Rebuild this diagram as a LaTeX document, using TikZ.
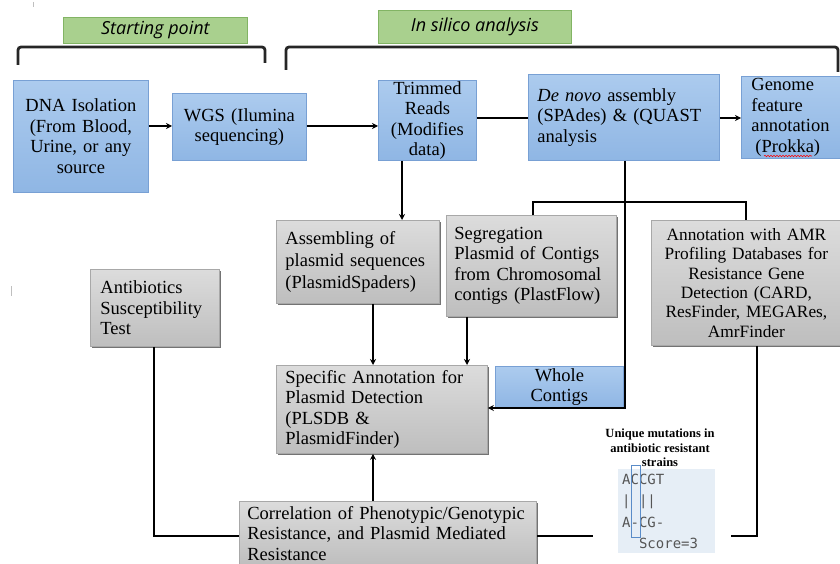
\documentclass[tikz,border=0pt]{standalone}
\usepackage{fontspec}
\setmainfont{Liberation Serif}
\newfontfamily\lblfont{Open Sans}
\newfontfamily\seqfont{DejaVu Sans Mono}
\usetikzlibrary{arrows.meta,shadows,decorations.pathmorphing}
\definecolor{bluetop}{RGB}{172,203,238}
\definecolor{bluebot}{RGB}{143,182,228}
\definecolor{blueedge}{RGB}{120,160,212}
\definecolor{graytop}{RGB}{220,220,220}
\definecolor{graybot}{RGB}{190,190,190}
\definecolor{grayedge}{RGB}{168,168,168}
\definecolor{greenfill}{RGB}{169,208,142}
\definecolor{greenedge}{RGB}{130,180,100}
\definecolor{seqbg}{RGB}{230,238,246}
\definecolor{seqtext}{RGB}{85,85,85}
\definecolor{seqedge}{RGB}{90,140,200}
\begin{document}
\begin{tikzpicture}[x=1pt,y=-1pt,
  base/.style={rectangle, anchor=north west, inner xsep=0pt, inner ysep=0pt,
    font=\fontsize{18.5}{20.5}\selectfont},
  bluebox/.style={base, draw=blueedge, line width=0.8pt, top color=bluetop, bottom color=bluebot},
  graybox/.style={base, draw=grayedge, line width=0.8pt, top color=graytop, bottom color=graybot,
    drop shadow={shadow xshift=1.5pt, shadow yshift=-1.5pt, opacity=0.55, fill=black}},
  lbl/.style={rectangle, anchor=north west, inner sep=0pt, draw=greenedge, line width=0.8pt, fill=greenfill,
    font=\lblfont\itshape\fontsize{18}{20}\selectfont},
  conn/.style={line width=2.6pt, black},
  arr/.style={conn, -{Stealth[length=6pt,width=6pt]}},
  bracket/.style={line width=2.8pt, rounded corners=3pt, black!85},
  seq/.style={anchor=base west, inner sep=0pt, text=seqtext, font=\seqfont\fontsize{14}{16}\selectfont}
]
\useasboundingbox (0,0) rectangle (840,564);

% stray marks
\draw[gray!50, line width=0.8pt] (11,286) -- (11,296);
\draw[gray!50, line width=0.6pt] (33,2) -- (33,7);

% phase labels and brackets
\node[lbl, minimum width=184pt, minimum height=26pt] (start) at (63,17) {Starting point};
\node[lbl, minimum width=193pt, minimum height=33pt] (insilico) at (378,10) {In silico analysis};
\draw[bracket] (18,65) -- (18,47) -- (265,47) -- (265,63);
\draw[bracket] (286,70) -- (286,47) -- (838,47) -- (838,72);

% top row
\node[bluebox, minimum width=135pt, minimum height=112pt, text width=130pt, align=center] (dna) at (13,80)
  {DNA Isolation\\(From Blood,\\Urine, or any\\source};
\node[bluebox, minimum width=134pt, minimum height=67pt, text width=128pt, align=center] (wgs) at (172,93)
  {WGS (Ilumina\\sequencing)};
\node[bluebox, minimum width=98pt, minimum height=80pt, text width=96pt, align=center] (trim) at (378,80)
  {Trimmed\\Reads\\(Modifies\\data)};
\node[bluebox, minimum width=191pt, minimum height=86pt, text width=173pt, align=left] (denovo) at (528,74)
  {\textit{De novo} assembly\\(SPAdes) \& (QUAST\\analysis};
\node[bluebox, minimum width=100pt, minimum height=82pt, text width=80pt, align=left] (genome) at (741,76)
  {Genome\\feature\\annotation\\\hspace*{4pt}(Prokka)};
\draw[red, line width=0.6pt, decorate, decoration={snake, amplitude=0.7pt, segment length=3pt}]
  (764,156) -- (812,156);

% middle row
\node[graybox, minimum width=163pt, minimum height=83pt, text width=145pt, align=left,
  font=\fontsize{18.5}{22}\selectfont] (asm) at (276,220)
  {Assembling of\\plasmid sequences\\(PlasmidSpaders)};
\node[graybox, minimum width=170pt, minimum height=101pt, text width=154pt, align=left] (seg) at (446,215)
  {Segregation\\Plasmid of Contigs\\from Chromosomal\\contigs (PlastFlow)};
\node[graybox, minimum width=190pt, minimum height=125pt, text width=180pt, align=center,
  font=\fontsize{17.3}{19.3}\selectfont] (amr) at (651,220)
  {Annotation with AMR\\Profiling Databases for\\Resistance Gene\\Detection (CARD,\\ResFinder, MEGARes,\\AmrFinder};
\node[graybox, minimum width=129pt, minimum height=77pt, text width=109pt, align=left] (abt) at (90,269)
  {Antibiotics\\Susceptibility\\Test};
\node[graybox, minimum width=211pt, minimum height=88pt, text width=193pt, align=left] (spec) at (276,365)
  {Specific Annotation for\\Plasmid Detection\\(PLSDB \&\\PlasmidFinder)};
\node[bluebox, minimum width=128pt, minimum height=41pt, text width=120pt, align=center] (wc) at (495,366)
  {Whole\\Contigs};
\node[graybox, minimum width=297pt, minimum height=64pt, text width=281pt, align=left] (corr) at (239,501)
  {Correlation of Phenotypic/Genotypic\\Resistance, and Plasmid Mediated\\Resistance};

% helper coordinates
\coordinate (r1) at (0,126);
\coordinate (r2) at (0,118);
\coordinate (r3) at (0,408);
\coordinate (r4) at (0,536);
\coordinate (rb) at (0,202);
\coordinate (c1) at (402,0);
\coordinate (c2) at (625,0);
\coordinate (c3) at (533,0);
\coordinate (c4) at (746,0);
\coordinate (c5) at (373,0);
\coordinate (c6) at (467,0);
\coordinate (c7) at (154,0);
\coordinate (c8) at (757,0);

% connectors
\draw[arr] (dna.east |- r1) -- (wgs.west |- r1);
\draw[arr] (wgs.east |- r1) -- (trim.west |- r1);
\draw[conn] (trim.east |- r2) -- (denovo.west |- r2);
\draw[arr] (denovo.east |- r2) -- (genome.west |- r2);
\draw[arr] (trim.south -| c1) -- (asm.north -| c1);
\draw[arr] (denovo.south -| c2) |- (spec.east |- r3);
\draw[conn] (seg.north -| c3) |- (c4 |- rb) -- (amr.north -| c4);
\draw[arr] (asm.south -| c5) -- (spec.north -| c5);
\draw[arr] (seg.south -| c6) -- (spec.north -| c6);
\draw[arr] (corr.north -| c5) -- (spec.south -| c5);
\draw[conn] (abt.south -| c7) |- (corr.west |- r4);
\draw[conn] (amr.south -| c8) |- (corr.east |- r4);

% inset picture
\node[fill=white, anchor=north west, inner sep=0pt, minimum width=138pt, minimum height=136pt] (img) at (593,424) {};
\node[fill=seqbg, anchor=north west, inner sep=0pt, minimum width=97pt, minimum height=84pt] (seqbox) at (618,469) {};
\node[inner sep=0pt, align=center, font=\bfseries\fontsize{12.5}{14.5}\selectfont] (imgtitle) at (660,448)
  {Unique mutations in\\antibiotic resistant\\strains};
\node[seq] (s1) at (622,484) {ACCGT};
\node[seq] (s2) at (622,505) {|\phantom{C}||};
\node[seq] (s3) at (622,527) {A-CG-};
\node[seq] (s4) at (622,548) {\phantom{AC}Score=3};
\node[draw=seqedge, line width=0.8pt, anchor=north west, inner sep=0pt, minimum width=8.5pt, minimum height=72pt] (col) at (631,465) {};
\end{tikzpicture}
\end{document}
